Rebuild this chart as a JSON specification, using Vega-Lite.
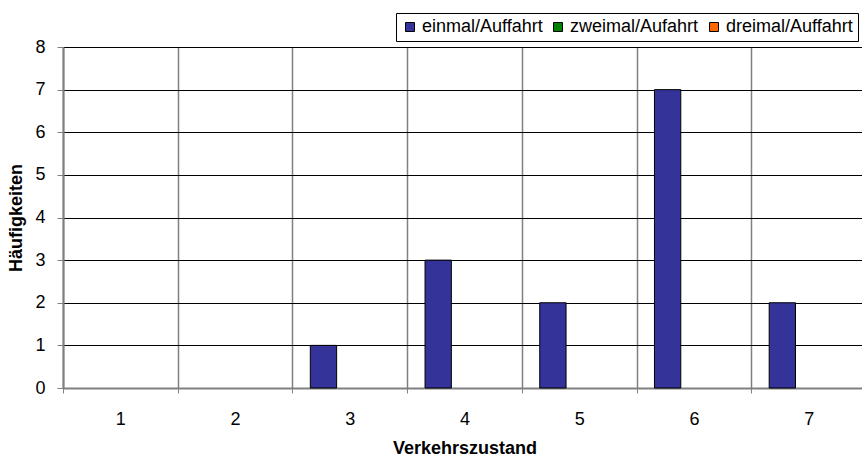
{
  "$schema": "https://vega.github.io/schema/vega-lite/v6.json",
  "autosize": {"type": "none"},
  "padding": {"left": 63, "top": 47, "right": 0, "bottom": 70},
  "width": 799,
  "height": 341,
  "background": "white",
  "config": {
    "view": {"stroke": null},
    "font": "Liberation Sans",
    "axis": {"labelFont": "Liberation Sans", "titleFont": "Liberation Sans", "labelColor": "black", "titleColor": "black"}
  },
  "data": {
    "values": [
      {"Verkehrszustand": 1, "Serie": "einmal/Auffahrt", "Anzahl": 0},
      {"Verkehrszustand": 1, "Serie": "zweimal/Aufahrt", "Anzahl": 0},
      {"Verkehrszustand": 1, "Serie": "dreimal/Auffahrt", "Anzahl": 0},
      {"Verkehrszustand": 2, "Serie": "einmal/Auffahrt", "Anzahl": 0},
      {"Verkehrszustand": 2, "Serie": "zweimal/Aufahrt", "Anzahl": 0},
      {"Verkehrszustand": 2, "Serie": "dreimal/Auffahrt", "Anzahl": 0},
      {"Verkehrszustand": 3, "Serie": "einmal/Auffahrt", "Anzahl": 1},
      {"Verkehrszustand": 3, "Serie": "zweimal/Aufahrt", "Anzahl": 0},
      {"Verkehrszustand": 3, "Serie": "dreimal/Auffahrt", "Anzahl": 0},
      {"Verkehrszustand": 4, "Serie": "einmal/Auffahrt", "Anzahl": 3},
      {"Verkehrszustand": 4, "Serie": "zweimal/Aufahrt", "Anzahl": 0},
      {"Verkehrszustand": 4, "Serie": "dreimal/Auffahrt", "Anzahl": 0},
      {"Verkehrszustand": 5, "Serie": "einmal/Auffahrt", "Anzahl": 2},
      {"Verkehrszustand": 5, "Serie": "zweimal/Aufahrt", "Anzahl": 0},
      {"Verkehrszustand": 5, "Serie": "dreimal/Auffahrt", "Anzahl": 0},
      {"Verkehrszustand": 6, "Serie": "einmal/Auffahrt", "Anzahl": 7},
      {"Verkehrszustand": 6, "Serie": "zweimal/Aufahrt", "Anzahl": 0},
      {"Verkehrszustand": 6, "Serie": "dreimal/Auffahrt", "Anzahl": 0},
      {"Verkehrszustand": 7, "Serie": "einmal/Auffahrt", "Anzahl": 2},
      {"Verkehrszustand": 7, "Serie": "zweimal/Aufahrt", "Anzahl": 0},
      {"Verkehrszustand": 7, "Serie": "dreimal/Auffahrt", "Anzahl": 0}
    ]
  },
  "mark": {"type": "bar", "stroke": "black"},
  "encoding": {
    "x": {
      "field": "Verkehrszustand",
      "type": "ordinal",
      "scale": {"paddingInner": 0, "paddingOuter": 0, "range": [0, 803]},
      "axis": {
        "title": "Verkehrszustand",
        "titleFontSize": 18,
        "titleFontWeight": "bold",
        "titlePadding": 11,
        "labelAngle": 0,
        "labelFontSize": 18,
        "labelPadding": 17,
        "tickBand": "extent",
        "tickSize": 5,
        "tickColor": "#808080",
        "domainColor": "#808080",
        "domainWidth": 2,
        "grid": true,
        "gridColor": "#808080",
        "gridWidth": 1.5
      }
    },
    "xOffset": {
      "field": "Serie",
      "type": "nominal",
      "scale": {"domain": ["einmal/Auffahrt", "zweimal/Aufahrt", "dreimal/Auffahrt"], "paddingInner": 0, "paddingOuter": 0.68}
    },
    "y": {
      "field": "Anzahl",
      "type": "quantitative",
      "scale": {"domain": [0, 8], "nice": false},
      "axis": {
        "title": "Häufigkeiten",
        "titleFontSize": 18,
        "titleFontWeight": "bold",
        "titlePadding": 9,
        "values": [0, 1, 2, 3, 4, 5, 6, 7, 8],
        "labelFontSize": 18,
        "labelPadding": 12,
        "tickSize": 6,
        "tickColor": "#808080",
        "domainColor": "#808080",
        "domainWidth": 2,
        "grid": true,
        "gridColor": "black",
        "gridWidth": 1
      }
    },
    "color": {
      "field": "Serie",
      "type": "nominal",
      "scale": {"domain": ["einmal/Auffahrt", "zweimal/Aufahrt", "dreimal/Auffahrt"], "range": ["#333399", "#008000", "#FF6600"]},
      "legend": {
        "title": null,
        "orient": "none",
        "legendX": 333,
        "legendY": -34,
        "direction": "horizontal",
        "gridAlign": "none",
        "strokeColor": "black",
        "fillColor": "white",
        "padding": 5,
        "symbolType": "square",
        "symbolSize": 81,
        "symbolStrokeColor": "black",
        "symbolStrokeWidth": 1,
        "symbolOpacity": 1,
        "labelFont": "Liberation Sans",
        "labelFontSize": 18,
        "labelColor": "black",
        "labelOffset": 3,
        "columnPadding": 6
      }
    },
    "strokeWidth": {
      "condition": {"test": "datum.Anzahl > 0", "value": 1},
      "value": 0
    }
  }
}
